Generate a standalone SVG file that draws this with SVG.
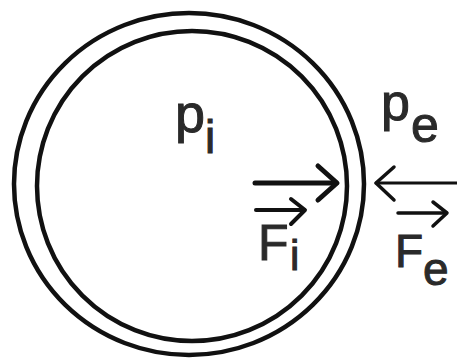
<svg xmlns="http://www.w3.org/2000/svg" width="457" height="358" viewBox="0 0 457 358">
<style>
.ring{fill:none;stroke:#111;stroke-width:4.5}
.t{font-family:"Liberation Sans",Arial,sans-serif;fill:#2a2a2a;stroke:#2a2a2a;stroke-width:1}
.ar{fill:none;stroke:#111;stroke-linecap:round;stroke-linejoin:round}
</style>
<rect width="457" height="358" fill="#fff"/>
<g id="bubble">
<ellipse class="ring" cx="189" cy="184" rx="175" ry="171"/>
<ellipse class="ring" cx="192" cy="186" rx="155" ry="155"/>
</g>
<g id="label-pi">
<text class="t" x="175" y="132" font-size="54">p</text>
<text class="t" x="205" y="153" font-size="46">i</text>
</g>
<g id="label-pe">
<text class="t" x="381" y="120" font-size="52">p</text>
<text class="t" x="411" y="142" font-size="50">e</text>
</g>
<g id="connectors">
<g id="force-i">
<line class="ar" x1="255" y1="183" x2="336" y2="183" stroke-width="5"/>
<polyline class="ar" points="318,166 337,183 318,200" stroke-width="5"/>
</g>
<g id="force-e">
<line class="ar" x1="376" y1="183" x2="457" y2="183" stroke-width="3"/>
<polyline class="ar" points="394,167 376,183 394,200" stroke-width="3.5"/>
</g>
</g>
<g id="label-Fi">
<line class="ar" x1="256" y1="210" x2="304" y2="210" stroke-width="4"/>
<polyline class="ar" points="291,199 305,210 291,224" stroke-width="4"/>
<text class="t" x="258" y="260" font-size="50">F</text>
<text class="t" x="290" y="270" font-size="42">i</text>
</g>
<g id="label-Fe">
<line class="ar" x1="398" y1="213" x2="446" y2="213" stroke-width="3.5"/>
<polyline class="ar" points="433,202 447,213 433,226" stroke-width="3.5"/>
<text class="t" x="395" y="267" font-size="46">F</text>
<text class="t" x="423" y="285" font-size="46">e</text>
</g>
</svg>
